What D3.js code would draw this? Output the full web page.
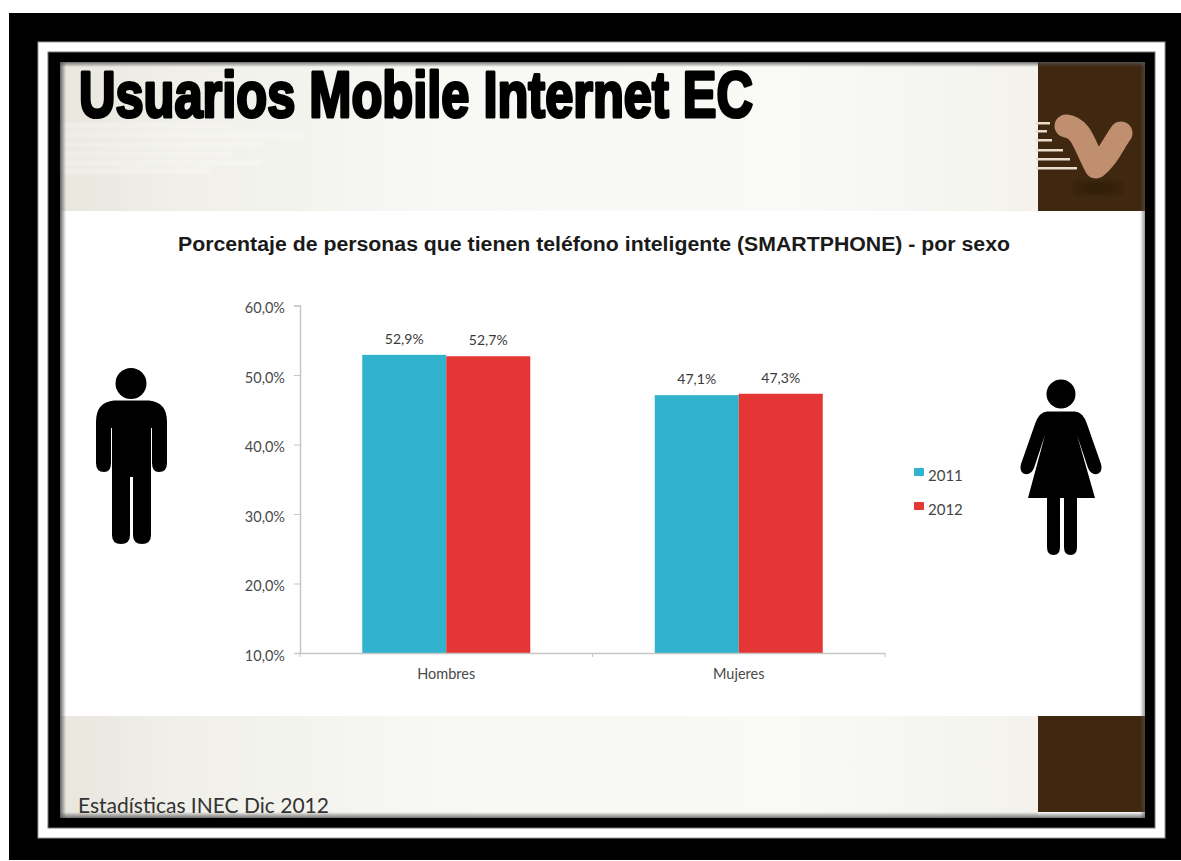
<!DOCTYPE html>
<html lang="es">
<head>
<meta charset="utf-8">
<title>Usuarios Mobile Internet EC</title>
<script src="https://cdn.jsdelivr.net/npm/d3@7/dist/d3.min.js"></script>
<style>
  html, body { margin: 0; padding: 0; background: #fff; overflow: hidden; }
  svg { display: block; }
</style>
</head>
<body>
<svg id="slide" width="1181" height="861"></svg>
<script>
// Chart data
const categories = ["Hombres", "Mujeres"];
const seriesNames = ["2011", "2012"];
const values2011 = [52.9, 47.1];
const values2012 = [52.7, 47.3];
const yTicks = [10, 20, 30, 40, 50, 60];
const slideTitle = "Usuarios Mobile Internet EC";
const chartTitle = "Porcentaje de personas que tienen teléfono inteligente (SMARTPHONE) - por sexo";
const sourceNote = "Estadísticas INEC Dic 2012";
const seriesColors = ["#31b3cd", "#e33635"];

const svg = d3.select("#slide");
const defs = svg.append("defs");

function gradient(id, horizontal, stops) {
  const g = defs.append("linearGradient").attr("id", id)
    .attr("x1", 0).attr("y1", 0)
    .attr("x2", horizontal ? 1 : 0).attr("y2", horizontal ? 0 : 1);
  stops.forEach(([o, c, a]) => g.append("stop").attr("offset", o).attr("stop-color", c).attr("stop-opacity", a === undefined ? 1 : a));
}
gradient("band", true, [[0, "#e8e6dd"], [0.12, "#f0efe9"], [0.4, "#f8f8f5"], [0.75, "#f9f9f6"], [1, "#f3f2ed"]]);
gradient("edgeLeft", true, [[0, "#555", 0.9], [1, "#555", 0]]);
gradient("edgeRight", true, [[0, "#555", 0], [1, "#555", 0.6]]);
gradient("edgeTop", false, [[0, "#555", 0.8], [1, "#555", 0]]);
gradient("edgeBottom", false, [[0, "#555", 0], [1, "#555", 0.8]]);
defs.append("filter").attr("id", "soft").append("feGaussianBlur").attr("stdDeviation", 2);
defs.append("filter").attr("id", "softer").append("feGaussianBlur").attr("stdDeviation", 5);

const rect = (p, x, y, w, h, fill) => p.append("rect").attr("x", x).attr("y", y).attr("width", w).attr("height", h).attr("fill", fill);

// Picture frame: black, white, black, then the slide
rect(svg, 9, 13, 1172, 847, "#000");
rect(svg, 38, 42, 1127, 796, "#fff").attr("stroke", "#999").attr("stroke-width", 1);
rect(svg, 48, 52, 1107, 776, "#000").attr("stroke", "#777").attr("stroke-width", 1);
rect(svg, 60, 62, 1085, 756, "#fff");

// Header and footer bands
rect(svg, 60, 62, 978, 149, "url(#band)");
rect(svg, 60, 716, 978, 102, "url(#band)");
rect(svg, 1038, 62, 107, 149, "#3f2710");
rect(svg, 1038, 716, 107, 96, "#3f2710");

// Pale speed lines across the header
const stripes = svg.append("g").attr("filter", "url(#soft)").attr("opacity", 0.5);
[124, 133, 143, 152, 161, 169].forEach((y, i) => rect(stripes, 62, y, [170, 240, 200, 170, 200, 150][i], 3.5, "#fff"));

// Logo: speed lines and the V mark
const logo = svg.append("g");
[[123, 1050], [131, 1047], [140, 1052], [150, 1063], [159, 1070], [168, 1077]].forEach(([y, x2]) =>
  rect(logo, 1036, y - 1, x2 - 1036, 2.5, "#eadccb"));
logo.append("ellipse").attr("cx", 1098).attr("cy", 188).attr("rx", 22).attr("ry", 6)
  .attr("fill", "#241405").attr("opacity", 0.55).attr("filter", "url(#softer)");
logo.append("path")
  .attr("d", "M1066,126 C1082,128 1084,145 1096,167 C1106,160 1112,146 1121,133")
  .attr("fill", "none").attr("stroke", "#bf8f6f").attr("stroke-width", 23)
  .attr("stroke-linecap", "round").attr("stroke-linejoin", "round");

// Soft inner edges of the slide
rect(svg, 60, 62, 6, 756, "url(#edgeLeft)");
rect(svg, 1140, 62, 5, 756, "url(#edgeRight)");
rect(svg, 60, 62, 1085, 5, "url(#edgeTop)");
rect(svg, 60, 812, 1085, 6, "url(#edgeBottom)");

// Slide heading and footer note
svg.append("text").text(slideTitle)
  .attr("x", 79).attr("y", 117)
  .attr("textLength", 674).attr("lengthAdjust", "spacingAndGlyphs")
  .attr("font-family", "'Liberation Sans', Arial, sans-serif")
  .attr("font-weight", 700).attr("font-size", 64)
  .attr("fill", "#000").attr("stroke", "#000").attr("stroke-width", 3.2).attr("stroke-linejoin", "round");

svg.append("text").text(sourceNote)
  .attr("x", 78).attr("y", 813)
  .attr("font-family", "Lato, 'Open Sans', sans-serif").attr("font-size", 21)
  .attr("textLength", 251).attr("lengthAdjust", "spacingAndGlyphs").attr("fill", "#333");

svg.append("text").text(chartTitle)
  .attr("x", 178).attr("y", 251)
  .attr("textLength", 832).attr("lengthAdjust", "spacingAndGlyphs")
  .attr("font-family", "'Liberation Sans', Arial, sans-serif").attr("font-weight", 700).attr("font-size", 19.5)
  .attr("fill", "#1a1a1a");

// Scales
const x = d3.scaleBand().domain(categories).range([300, 885]).paddingInner(0.4256).paddingOuter(0.2128);
const xSeries = d3.scaleBand().domain(seriesNames).range([0, x.bandwidth()]);
const y = d3.scaleLinear().domain([10, 60]).range([653, 305.5]);
const decimal = d3.formatLocale({ decimal: ",", thousands: ".", grouping: [3], currency: ["", ""] }).format(".1f");
const pct = v => decimal(v) + "%";
const labelFont = "Lato, 'Open Sans', sans-serif";

// Bars and their value labels
const seriesData = [values2011, values2012];
seriesData.forEach((vals, s) => {
  const name = seriesNames[s];
  const g = svg.append("g");
  g.selectAll("rect").data(vals).join("rect")
    .attr("x", (d, i) => x(categories[i]) + xSeries(name))
    .attr("y", d => y(d))
    .attr("width", xSeries.bandwidth())
    .attr("height", d => y(10) - y(d))
    .attr("fill", seriesColors[s]);
  g.selectAll("text").data(vals).join("text")
    .attr("x", (d, i) => x(categories[i]) + xSeries(name) + xSeries.bandwidth() / 2)
    .attr("y", d => y(d) - 11)
    .attr("text-anchor", "middle")
    .attr("font-family", labelFont).attr("font-size", 14).attr("fill", "#3a3a3a")
    .text(pct);
});

// Axes
const axisColor = "#c6c6c6";
const yAxis = svg.append("g").attr("transform", "translate(300,0)")
  .call(d3.axisLeft(y).tickValues(yTicks).tickFormat(pct).tickSize(6).tickPadding(9));
const xAxis = svg.append("g").attr("transform", "translate(0,653)")
  .call(d3.axisBottom(x).tickSize(0).tickPadding(15));
[yAxis, xAxis].forEach(a => {
  a.selectAll(".domain").attr("stroke", axisColor).attr("stroke-width", 1.5);
  a.selectAll("line").attr("stroke", axisColor);
  a.selectAll("text").attr("font-family", labelFont).attr("font-size", 14.5).attr("fill", "#4a4a4a");
});
yAxis.selectAll("text").attr("dy", "0.5em");
xAxis.selectAll("text").attr("dy", "0.75em");
// Category separators on the baseline
xAxis.selectAll("line.sep").data([300, 592.5, 885]).join("line").attr("class", "sep")
  .attr("x1", d => d).attr("x2", d => d).attr("y1", 0).attr("y2", 4).attr("stroke", axisColor);

// Legend
const legend = svg.append("g");
seriesNames.forEach((name, i) => {
  const top = 468 + i * 34;
  rect(legend, 914, top, 10, 8, seriesColors[i]).attr("rx", 1);
  legend.append("text").text(name).attr("x", 928).attr("y", top + 12.5)
    .attr("font-family", labelFont).attr("font-size", 15).attr("fill", "#444");
});

// Pictograms
const man = svg.append("g").attr("fill", "#000").attr("stroke", "none");
man.append("circle").attr("cx", 131).attr("cy", 383.5).attr("r", 15.5);
man.append("path").attr("d",
  "M114,400.5 H149 Q167,402 167,422 V463 Q167,472 159,472 Q152,472 152,463 V428 H151 V535 " +
  "Q151,544 142,544 Q133,544 133,535 V477 H130 V535 Q130,544 121,544 Q112,544 112,535 V428 H111 V463 " +
  "Q111,472 104,472 Q96,472 96,463 V422 Q96,402 114,400.5 Z");

const woman = svg.append("g").attr("fill", "#000").attr("stroke", "none");
woman.append("circle").attr("cx", 1061).attr("cy", 394).attr("r", 14.5);
woman.append("path").attr("d",
  "M1047,411.5 H1075 Q1083,412 1087,424 L1101,464 Q1103,472 1097,474 Q1091,475 1088,468 L1077,435 " +
  "L1095,498 H1077 V547 Q1077,555 1070.5,555 Q1064,555 1064,547 V498 H1060 V547 Q1060,555 1053.5,555 " +
  "Q1047,555 1047,547 V498 H1028 L1045,435 L1034,468 Q1031,475 1025,474 Q1019,472 1021,464 L1035,424 Q1039,412 1047,411.5 Z");
</script>
</body>
</html>
